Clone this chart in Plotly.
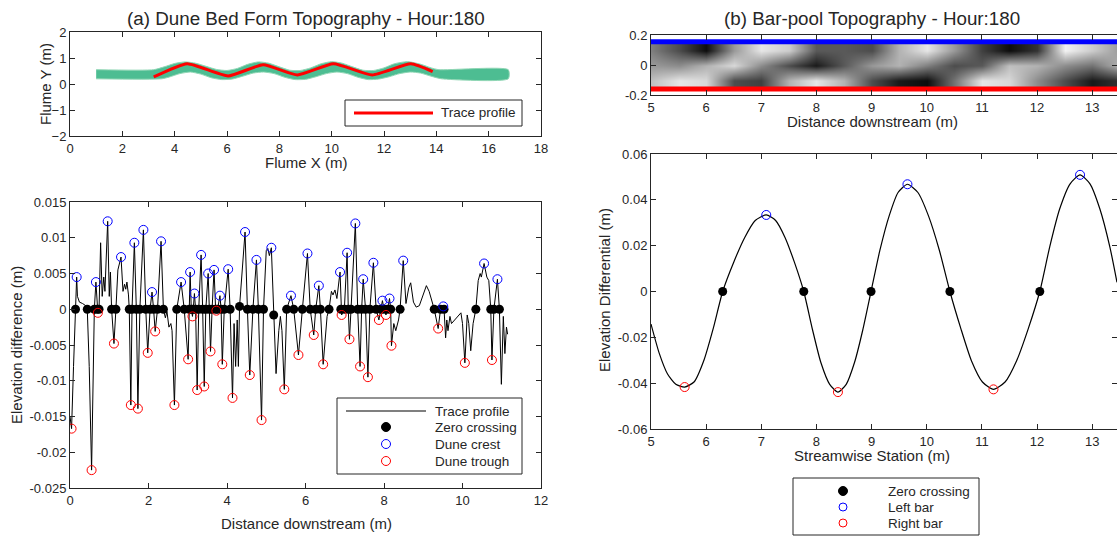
import plotly.graph_objects as go

W, H = 1117, 536

def fx(p):
    return p / W

def fy(p):
    return 1 - p / H

# ---------------- (a) top: flume topography ----------------
band_top_x = [1.0, 3.2, 3.6, 4.0, 4.4, 4.8, 5.2, 5.6, 6.0, 6.4, 6.8, 7.2, 7.6, 8.0, 8.4, 8.8, 9.2, 9.6, 10.0, 10.4,
              10.8, 11.2, 11.6, 12.0, 12.4, 12.9, 13.4, 13.8, 14.1, 16.75]
band_top_y = [0.55, 0.55, 0.66, 0.79, 0.85, 0.80, 0.68, 0.56, 0.52, 0.60, 0.76, 0.85, 0.80, 0.66, 0.53, 0.52, 0.62, 0.78,
              0.86, 0.80, 0.66, 0.53, 0.52, 0.62, 0.78, 0.86, 0.76, 0.62, 0.55, 0.55]
band_bot_x = [16.75, 14.2, 13.8, 13.4, 13.0, 12.6, 12.2, 11.8, 11.4, 11.0, 10.6, 10.2, 9.8, 9.4, 9.0, 8.6, 8.2, 7.8,
              7.4, 7.0, 6.6, 6.2, 5.8, 5.4, 5.0, 4.6, 4.2, 3.8, 3.5, 1.0]
band_bot_y = [0.20, 0.20, 0.30, 0.42, 0.46, 0.40, 0.28, 0.19, 0.17, 0.26, 0.40, 0.46, 0.40, 0.28, 0.18, 0.17, 0.26, 0.40,
              0.46, 0.42, 0.30, 0.19, 0.17, 0.24, 0.38, 0.46, 0.40, 0.27, 0.20, 0.20]

trace_a_x = [3.2, 4.48, 6.04, 7.38, 8.69, 10.07, 11.55, 13.03, 13.86]
trace_a_y = [0.27, 0.78, 0.31, 0.74, 0.35, 0.78, 0.35, 0.78, 0.48]

# ---------------- (a) bottom: dune profile ----------------
profile_x = [0.00, 0.04, 0.09, 0.14, 0.17, 0.19, 0.24, 0.32, 0.40, 0.44, 0.49, 0.55, 0.59, 0.62, 0.66, 0.69, 0.71, 0.74,
             0.78, 0.82, 0.86, 0.89, 0.96, 1.00, 1.03, 1.06, 1.12, 1.17, 1.22, 1.30, 1.35, 1.39, 1.42, 1.45, 1.49, 1.51,
             1.55, 1.58, 1.64, 1.69, 1.73, 1.78, 1.87, 1.93, 1.98, 2.04, 2.09, 2.13, 2.17, 2.23, 2.32, 2.38, 2.43, 2.47,
             2.52, 2.57, 2.60, 2.66, 2.72, 2.83, 2.91, 3.01, 3.04, 3.06, 3.09, 3.12, 3.14, 3.17, 3.20, 3.24, 3.28, 3.34,
             3.38, 3.42, 3.46, 3.52, 3.55, 3.58, 3.62, 3.67, 3.71, 3.73, 3.76, 3.82, 3.85, 3.88, 3.93, 4.03, 4.08, 4.14,
             4.18, 4.22, 4.26, 4.29, 4.32, 4.46, 4.52, 4.58, 4.66, 4.75, 4.80, 4.88, 4.93, 5.00, 5.04, 5.08, 5.13, 5.19,
             5.25, 5.32, 5.36, 5.40, 5.46, 5.52, 5.63, 5.70, 5.82, 5.92, 6.05, 6.12, 6.21, 6.26, 6.34, 6.38, 6.45, 6.55,
             6.60, 6.66, 6.70, 6.75, 6.80, 6.88, 6.90, 6.92, 6.99, 7.06, 7.09, 7.12, 7.16, 7.27, 7.33, 7.39, 7.43, 7.47,
             7.53, 7.59, 7.64, 7.73, 7.80, 7.87, 7.92, 7.96, 8.00, 8.05, 8.09, 8.14, 8.17, 8.19, 8.25, 8.30, 8.37, 8.41,
             8.49, 8.56, 8.63, 8.68, 8.75, 8.82, 8.90, 8.98, 9.08, 9.15, 9.22, 9.28, 9.38, 9.44, 9.51, 9.53, 9.57, 9.60,
             9.63, 9.68, 9.72, 9.80, 9.90, 9.96, 10.00, 10.06, 10.12, 10.16, 10.21, 10.27, 10.34, 10.40, 10.45, 10.48,
             10.55, 10.62, 10.67, 10.72, 10.75, 10.80, 10.89, 10.94, 10.99, 11.04, 11.08, 11.12, 11.15]
profile_y = [-0.0150, -0.0167, -0.0080, 0.0, 0.0045, 0.0018, 0.0010, 0.0008, 0.0005, 0.0, -0.0080, -0.0225, -0.0070, 0.0, 0.0038, 0.0, -0.0005, 0.0,
             0.0093, 0.0018, 0.0045, 0.0025, 0.0123, 0.0018, 0.0052, 0.0, -0.0048, 0.0, 0.0055, 0.0073, 0.0025, 0.0035, 0.0028, 0.0038, 0.0020, 0.0,
             -0.0134, 0.0, 0.0093, 0.0, -0.0139, 0.0, 0.0111, 0.0, -0.0061, 0.0, 0.0024, 0.0, -0.0031, 0.0, 0.0095, 0.0, -0.0012, -0.0003,
             -0.0025, -0.0020, -0.0030, -0.0134, 0.0, 0.0038, 0.0, -0.0070, 0.0, 0.0052, 0.0, -0.0010, 0.0, 0.0022, 0.0, -0.0113, 0.0, 0.0076,
             0.0, -0.0108, 0.0, 0.0050, 0.0, -0.0059, 0.0, 0.0055, 0.0, -0.0002, 0.0, 0.0019, 0.0, -0.0077, 0.0, 0.0056, 0.0, -0.0124,
             -0.0020, -0.0080, -0.0015, -0.0080, 0.0004, 0.0108, 0.0, -0.0092, 0.0, 0.0069, 0.0, -0.0155, 0.0, 0.0082, 0.0085, 0.0075, 0.0086, -0.0008,
             -0.0090, -0.0030, -0.0010, -0.0030, -0.0112, 0.0, 0.0019, 0.0, -0.0064, 0.0, 0.0078, 0.0, -0.0036, 0.0, 0.0033, 0.0, -0.0077, -0.0010,
             0.0, 0.0025, 0.0020, 0.0027, 0.0015, 0.0052, 0.0, -0.0008, 0.0, 0.0079, 0.0, -0.0042, 0.0, 0.0120, 0.0, -0.0080, 0.0, 0.0042,
             0.0, -0.0095, 0.0, 0.0065, 0.0, -0.0015, 0.0, 0.0012, 0.0, -0.0008, 0.0, 0.0015, 0.0, -0.0051, -0.0020, -0.0030, -0.0015, 0.0,
             0.0068, 0.0008, 0.0030, 0.0037, 0.0010, 0.0003, 0.0005, 0.0018, 0.0033, 0.0025, 0.0010, 0.0, -0.0027, 0.0, 0.0004, 0.0, -0.0040, -0.0015,
             -0.0030, -0.0010, -0.0020, -0.0015, -0.0010, -0.0005, -0.0020, -0.0075, -0.0008, -0.0020, -0.0058, -0.0020, 0.0, 0.0040, 0.0050, 0.0045,
             0.0064, 0.0045, 0.0040, 0.0, -0.0071, 0.0, 0.0042, 0.0, -0.0105, -0.0010, -0.0062, -0.0025, -0.0035]

zero_x = [0.14, 0.44, 0.62, 0.69, 0.74, 1.06, 1.17, 1.51, 1.58, 1.69, 1.78, 1.93, 2.04, 2.13, 2.23, 2.38, 2.72, 2.91,
          3.04, 3.09, 3.14, 3.20, 3.28, 3.38, 3.46, 3.55, 3.62, 3.71, 3.76, 3.85, 3.93, 4.08, 4.32, 4.52, 4.66, 4.80,
          4.93, 5.19, 5.52, 5.70, 5.92, 6.12, 6.26, 6.38, 6.60, 6.90, 6.99, 7.09, 7.16, 7.33, 7.43, 7.53, 7.64, 7.80,
          7.92, 8.00, 8.09, 8.17, 8.41, 9.28, 9.44, 9.53, 10.34, 10.72, 10.80, 10.94]
zero_y = [0.0] * 32 + [0.0004] + [0.0] * 4 + [-0.0008] + [0.0] * 28

crest_x = [0.17, 0.66, 0.96, 1.30, 1.64, 1.87, 2.09, 2.32, 2.83, 3.06, 3.17, 3.34, 3.52, 3.67, 3.82, 4.03, 4.46,
           4.75, 5.13, 5.63, 6.05, 6.34, 6.88, 7.06, 7.27, 7.47, 7.73, 7.96, 8.14, 8.49, 9.51, 10.55, 10.89]
crest_y = [0.0045, 0.0038, 0.0123, 0.0073, 0.0093, 0.0111, 0.0024, 0.0095, 0.0038, 0.0052, 0.0022, 0.0076, 0.0050,
           0.0055, 0.0019, 0.0056, 0.0108, 0.0069, 0.0086, 0.0019, 0.0078, 0.0033, 0.0052, 0.0079, 0.0120, 0.0042,
           0.0065, 0.0012, 0.0015, 0.0068, 0.0004, 0.0064, 0.0042]

trough_x = [0.04, 0.55, 0.71, 1.12, 1.55, 1.73, 1.98, 2.17, 2.66, 3.01, 3.12, 3.24, 3.42, 3.58, 3.73, 3.88, 4.14,
            4.58, 4.88, 5.46, 5.82, 6.21, 6.45, 6.92, 7.12, 7.39, 7.59, 7.87, 8.05, 8.19, 9.38, 10.06, 10.75]
trough_y = [-0.0167, -0.0225, -0.0005, -0.0048, -0.0134, -0.0139, -0.0061, -0.0031, -0.0134, -0.0070, -0.0010,
            -0.0113, -0.0108, -0.0059, -0.0002, -0.0077, -0.0124, -0.0092, -0.0155, -0.0112, -0.0064, -0.0036,
            -0.0077, -0.0008, -0.0042, -0.0080, -0.0095, -0.0015, -0.0008, -0.0051, -0.0027, -0.0075, -0.0071]

# ---------------- (b) top: bar-pool topography ----------------
topo_x = [5.0, 5.5, 6.0, 6.5, 7.0, 7.5, 8.0, 8.5, 9.0, 9.5, 10.0, 10.5, 11.0, 11.5, 12.0, 12.5, 13.0, 13.5]
topo_y = [-0.10, 0.0, 0.10]
topo_z = [
    [0.75, 0.90, 0.85, 0.30, 0.25, 0.70, 0.90, 0.70, 0.30, 0.10, 0.05, 0.45, 0.90, 0.85, 0.55, 0.30, 0.10, 0.20],
    [0.60, 0.55, 0.70, 0.85, 0.55, 0.30, 0.10, 0.35, 0.60, 0.70, 0.50, 0.30, 0.35, 0.75, 0.70, 0.55, 0.45, 0.70],
    [0.50, 0.30, 0.05, 0.60, 0.90, 0.80, 0.35, 0.35, 0.30, 0.70, 0.90, 0.60, 0.25, 0.05, 0.20, 0.95, 0.80, 0.60],
]
bank_x = [5.0, 13.45]
left_bank_y = [0.155, 0.155]
right_bank_y = [-0.16, -0.16]

# ---------------- (b) bottom: bar-pool profile ----------------
bp_x = [5.00, 5.15, 5.30, 5.45, 5.61, 5.78, 5.96, 6.13, 6.30, 6.50, 6.70, 6.89, 7.09, 7.26, 7.43, 7.60, 7.77,
        7.93, 8.08, 8.24, 8.39, 8.54, 8.69, 8.84, 8.99, 9.15, 9.32, 9.48, 9.65, 9.84, 10.03, 10.23, 10.42,
        10.62, 10.81, 11.01, 11.21, 11.42, 11.63, 11.84, 12.05, 12.23, 12.41, 12.60, 12.78, 12.96, 13.14, 13.32, 13.45]
bp_y = [-0.0142, -0.0270, -0.0360, -0.0405, -0.0417, -0.0395, -0.0300, -0.0160, 0.0, 0.0128, 0.0236, 0.0310, 0.0334,
        0.0310, 0.0236, 0.0128, 0.0, -0.0168, -0.0310, -0.0405, -0.0439, -0.0405, -0.0310, -0.0168, 0.0, 0.0179,
        0.0331, 0.0432, 0.0468, 0.0432, 0.0331, 0.0179, 0.0, -0.0163, -0.0302, -0.0395, -0.0427, -0.0395, -0.0302,
        -0.0163, 0.0, 0.0195, 0.0360, 0.0470, 0.0509, 0.0470, 0.0360, 0.0195, 0.0040]
bp_zero_x = [6.30, 7.77, 8.99, 10.42, 12.05]
bp_zero_y = [0, 0, 0, 0, 0]
left_bar_x = [7.09, 9.65, 12.78]
left_bar_y = [0.0334, 0.0468, 0.0509]
right_bar_x = [5.61, 8.39, 11.21]
right_bar_y = [-0.0417, -0.0439, -0.0427]

# tick labels
ticks_a1_x = [0, 2, 4, 6, 8, 10, 12, 14, 16, 18]
ticks_a1_y = [-2, -1, 0, 1, 2]
ticks_a2_x = [0, 2, 4, 6, 8, 10, 12]
ticks_a2_y = [-0.025, -0.02, -0.015, -0.01, -0.005, 0, 0.005, 0.01, 0.015]
ticks_a2_ytext = ["-0.025", "-0.02", "-0.015", "-0.01", "-0.005", "0", "0.005", "0.01", "0.015"]
ticks_b_x = [5, 6, 7, 8, 9, 10, 11, 12, 13]
ticks_b1_y = [-0.2, 0, 0.2]
ticks_b1_ytext = ["-0.2", "0", "0.2"]
ticks_b2_y = [-0.06, -0.04, -0.02, 0, 0.02, 0.04, 0.06]
ticks_b2_ytext = ["-0.06", "-0.04", "-0.02", "0", "0.02", "0.04", "0.06"]

# legend entries
legend_a1 = ["Trace profile"]
legend_a2 = ["Trace profile", "Zero crossing", "Dune crest", "Dune trough"]
legend_b2 = ["Zero crossing", "Left bar", "Right bar"]

FONT = "Liberation Sans, Arial, Helvetica, sans-serif"
INK = "#262626"
BLUE = "#0000ff"
RED = "#ff0000"

fig = go.Figure()

# (a) top
fig.add_trace(go.Scatter(x=band_top_x + band_bot_x, y=band_top_y + band_bot_y, fill="toself",
                         fillcolor="#4dbd92", mode="lines", line=dict(width=1, color="#8fd6b4", shape="spline", smoothing=0.6),
                         xaxis="x", yaxis="y", showlegend=False, hoverinfo="skip"))
fig.add_trace(go.Scatter(x=trace_a_x, y=trace_a_y, mode="lines",
                         line=dict(color=RED, width=3, shape="spline", smoothing=0.5),
                         xaxis="x", yaxis="y", showlegend=False))

# (a) bottom
fig.add_trace(go.Scatter(x=profile_x, y=profile_y, mode="lines", line=dict(color="black", width=1),
                         xaxis="x2", yaxis="y2", showlegend=False))
fig.add_trace(go.Scatter(x=zero_x, y=zero_y, mode="markers", marker=dict(color="black", size=9, symbol="circle"),
                         xaxis="x2", yaxis="y2", showlegend=False))
fig.add_trace(go.Scatter(x=crest_x, y=crest_y, mode="markers",
                         marker=dict(color=BLUE, size=9, symbol="circle-open", line=dict(width=1)),
                         xaxis="x2", yaxis="y2", showlegend=False))
fig.add_trace(go.Scatter(x=trough_x, y=trough_y, mode="markers",
                         marker=dict(color=RED, size=9, symbol="circle-open", line=dict(width=1)),
                         xaxis="x2", yaxis="y2", showlegend=False))

# (b) top
fig.add_trace(go.Heatmap(x=topo_x, y=topo_y, z=topo_z, colorscale=[[0, "black"], [1, "white"]],
                         zmin=0, zmax=1, zsmooth="best", showscale=False, xaxis="x3", yaxis="y3",
                         hoverinfo="skip"))
fig.add_trace(go.Scatter(x=bank_x, y=left_bank_y, mode="lines", line=dict(color=BLUE, width=5),
                         xaxis="x3", yaxis="y3", showlegend=False))
fig.add_trace(go.Scatter(x=bank_x, y=right_bank_y, mode="lines", line=dict(color=RED, width=5),
                         xaxis="x3", yaxis="y3", showlegend=False))

# (b) bottom
fig.add_trace(go.Scatter(x=bp_x, y=bp_y, mode="lines", line=dict(color="black", width=1.2, shape="spline", smoothing=0.6),
                         xaxis="x4", yaxis="y4", showlegend=False))
fig.add_trace(go.Scatter(x=bp_zero_x, y=bp_zero_y, mode="markers", marker=dict(color="black", size=9),
                         xaxis="x4", yaxis="y4", showlegend=False))
fig.add_trace(go.Scatter(x=left_bar_x, y=left_bar_y, mode="markers",
                         marker=dict(color=BLUE, size=9, symbol="circle-open", line=dict(width=1)),
                         xaxis="x4", yaxis="y4", showlegend=False))
fig.add_trace(go.Scatter(x=right_bar_x, y=right_bar_y, mode="markers",
                         marker=dict(color=RED, size=9, symbol="circle-open", line=dict(width=1)),
                         xaxis="x4", yaxis="y4", showlegend=False))

axis_style = dict(showline=True, linecolor=INK, linewidth=1, mirror="ticks", ticks="inside", ticklen=5,
                  tickcolor=INK, showgrid=False, zeroline=False, tickfont=dict(size=13, color=INK, family=FONT))

LX0, LX1 = fx(70), fx(541)
RX0, RX1 = fx(651), 1.0

fig.update_layout(
    width=W, height=H, margin=dict(l=0, r=0, t=0, b=0, autoexpand=False),
    paper_bgcolor="white", plot_bgcolor="white", showlegend=False,
    font=dict(family=FONT, color=INK),
    xaxis=dict(domain=[LX0, LX1], range=[0, 18], tickvals=ticks_a1_x, anchor="y", **axis_style),
    yaxis=dict(domain=[fy(136), fy(32)], range=[-2, 2], tickvals=ticks_a1_y, anchor="x", **axis_style),
    xaxis2=dict(domain=[LX0, LX1], range=[0, 12], tickvals=ticks_a2_x, anchor="y2", **axis_style),
    yaxis2=dict(domain=[fy(488), fy(202)], range=[-0.025, 0.015], tickvals=ticks_a2_y, ticktext=ticks_a2_ytext,
                anchor="x2", **axis_style),
    xaxis3=dict(domain=[RX0, RX1], range=[5, 13.45], tickvals=ticks_b_x, anchor="y3", **axis_style),
    yaxis3=dict(domain=[fy(95), fy(35)], range=[-0.2, 0.2], tickvals=ticks_b1_y, ticktext=ticks_b1_ytext,
                anchor="x3", **axis_style),
    xaxis4=dict(domain=[RX0, RX1], range=[5, 13.45], tickvals=ticks_b_x, anchor="y4", **axis_style),
    yaxis4=dict(domain=[fy(429), fy(154)], range=[-0.06, 0.06], tickvals=ticks_b2_y, ticktext=ticks_b2_ytext,
                anchor="x4", **axis_style),
)

def text(t, x, y, size, angle=0, anchor="center"):
    fig.add_annotation(text=t, x=fx(x), y=fy(y), xref="paper", yref="paper", showarrow=False,
                       xanchor=anchor, yanchor="middle", textangle=angle,
                       font=dict(size=size, color=INK, family=FONT))

text("(a) Dune Bed Form Topography - Hour:180", 306, 18, 18.8)
text("(b) Bar-pool Topography - Hour:180", 872, 18, 18.8)
text("Flume Y (m)", 45, 84, 15, -90)
text("Flume X (m)", 306, 162, 15)
text("Elevation difference (m)", 16, 345, 15, -90)
text("Distance downstream (m)", 306, 523, 15)
text("Distance downstream (m)", 872, 121, 15)
text("Elevation Differential (m)", 604, 290, 15, -90)
text("Streamwise Station (m)", 872, 455, 15)

# hand-built legend boxes (pixel layout of the reference)
def rect(x0, y0, x1, y1):
    fig.add_shape(type="rect", xref="paper", yref="paper", x0=fx(x0), x1=fx(x1), y0=fy(y1), y1=fy(y0),
                  line=dict(color=INK, width=1), fillcolor="white", layer="above")

def hline(x0, x1, y, color, width):
    fig.add_shape(type="line", xref="paper", yref="paper", x0=fx(x0), x1=fx(x1), y0=fy(y), y1=fy(y),
                  line=dict(color=color, width=width), layer="above")

def dot(cx, cy, r, color, filled):
    fig.add_shape(type="circle", xref="paper", yref="paper", x0=fx(cx - r), x1=fx(cx + r), y0=fy(cy + r),
                  y1=fy(cy - r), line=dict(color=color, width=1), fillcolor=color if filled else "rgba(0,0,0,0)",
                  layer="above")

rect(345, 100, 522, 126)
hline(354, 433, 113, RED, 3)
text(legend_a1[0], 439, 113, 13.5, anchor="left")

rect(337, 398, 522, 474)
hline(346, 426, 411, "black", 1.2)
dot(386, 427, 4.5, "black", True)
dot(386, 444, 4.5, BLUE, False)
dot(386, 461, 4.5, RED, False)
for i, yy in enumerate([411, 427, 444, 461]):
    text(legend_a2[i], 433, yy, 13.5, anchor="left")

rect(793, 478, 979, 535)
dot(843, 491, 4.5, "black", True)
dot(843, 507, 4, BLUE, False)
dot(843, 523, 4, RED, False)
for i, yy in enumerate([491, 507, 523]):
    text(legend_b2[i], 886, yy, 13.5, anchor="left")

fig.write_html("out.html")
